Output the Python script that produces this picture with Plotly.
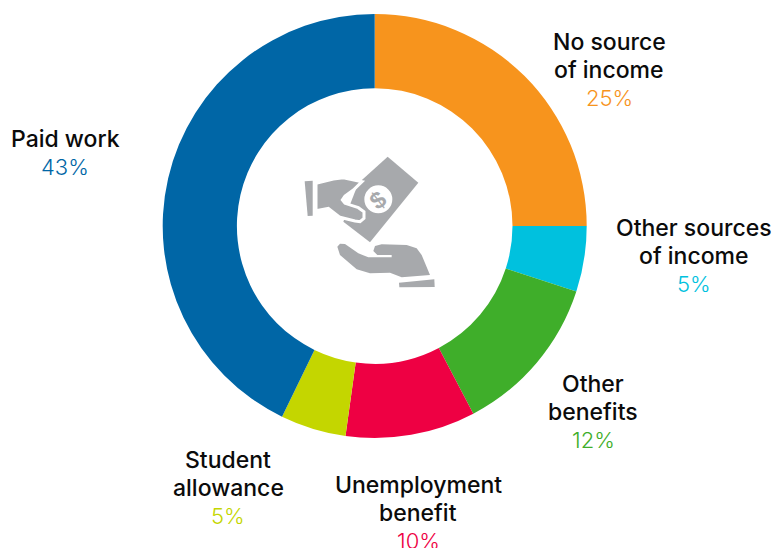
import plotly.graph_objects as go

W, H = 773, 548
categories = ["No source of income", "Other sources of income", "Other benefits",
              "Unemployment benefit", "Student allowance", "Paid work"]
values = [25, 5, 12.3, 9.9, 5, 42.8]
printed_pct = ["25%", "5%", "12%", "10%", "5%", "43%"]
colors = ["#F7941D", "#00C1DE", "#3FAE2A", "#EE0043", "#C4D600", "#0066A6"]
label_lines = [["No source", "of income"], ["Other sources", "of income"], ["Other", "benefits"],
               ["Unemployment", "benefit"], ["Student", "allowance"], ["Paid work"]]
label_x = [609, 694, 593, 418, 228, 65]
label_top = [42, 228, 384, 485, 460, 139]
LINE = 28
GREY = "#A7A9AC"
FONT = "Inter"

def px(x): return x / W
def py(y): return 1 - y / H

fig = go.Figure(go.Pie(
    values=values, labels=categories, sort=False, direction="clockwise", rotation=0,
    hole=0.65, marker=dict(colors=colors, line=dict(width=0)), textinfo="none",
    hoverinfo="label+percent",
    domain=dict(x=[px(162.7), px(586.7)], y=[py(438), py(14)]),
))

annotations = []
for lines, color, x, top, pct in zip(label_lines, colors, label_x, label_top, printed_pct):
    for i, t in enumerate(lines):
        annotations.append(dict(text=t, x=px(x), y=py(top + i * LINE), xref="paper", yref="paper",
                                showarrow=False, xanchor="center", yanchor="middle",
                                font=dict(family=FONT, size=23, color="#0b0b0b", weight=500)))
    annotations.append(dict(text=pct, x=px(x), y=py(top + len(lines) * LINE), xref="paper", yref="paper",
                            showarrow=False, xanchor="center", yanchor="middle",
                            font=dict(family=FONT, size=22, color=color, weight=300)))
annotations.append(dict(text="$", x=px(378.3), y=py(199.5), xref="paper", yref="paper", showarrow=False,
                        textangle=-38, font=dict(family="Liberation Sans", size=24, color=GREY, weight=700)))

# Icon outlines, given in pixels of the picture
def path(points):
    return "M" + " L".join(f"{px(290 + a / 3):.5f},{py(140 + b / 3):.5f}" for a, b in points) + " Z"

def ellipse(cx, cy, r):
    return dict(type="circle", xref="paper", yref="paper", layer="above",
                x0=px(290 + (cx - r) / 3), x1=px(290 + (cx + r) / 3),
                y0=py(140 + (cy + r) / 3), y1=py(140 + (cy - r) / 3),
                fillcolor="white", line=dict(width=0))

def poly(points, fill=GREY, line=None):
    return dict(type="path", xref="paper", yref="paper", layer="above", path=path(points), fillcolor=fill,
                line=dict(width=line or 0, color="white"))

bill = [(293, 50), (385, 128), (240, 307), (160, 245), (205, 130)]
cuff = [(44, 124), (68, 122), (68, 227), (53, 228)]
top_hand = [(78, 130), (130, 117), (160, 113), (216, 125), (190, 150), (165, 168), (157, 180), (165, 190),
            (205, 203), (222, 215), (222, 235), (210, 245), (195, 243), (150, 232), (115, 205), (78, 212)]
low_hand = [(142, 320), (150, 311), (165, 312), (205, 340), (235, 352), (305, 352), (305, 345), (262, 345),
            (250, 333), (255, 318), (275, 313), (350, 315), (380, 325), (395, 345), (420, 405), (335, 412),
            (300, 398), (240, 400), (200, 388), (150, 345)]
low_cuff = [(327, 428), (433, 418), (434, 441), (328, 442)]

fig.update_layout(
    width=W, height=H, margin=dict(l=0, r=0, t=0, b=0), showlegend=False,
    paper_bgcolor="white", annotations=annotations,
    shapes=[poly(bill), poly(top_hand, line=3), poly(cuff), poly(low_hand), poly(low_cuff), ellipse(265, 178, 42)],
)
fig.write_html("out.html", config={"displayModeBar": False},
               post_script="document.body.style.margin='0';document.body.style.overflow='hidden';")
